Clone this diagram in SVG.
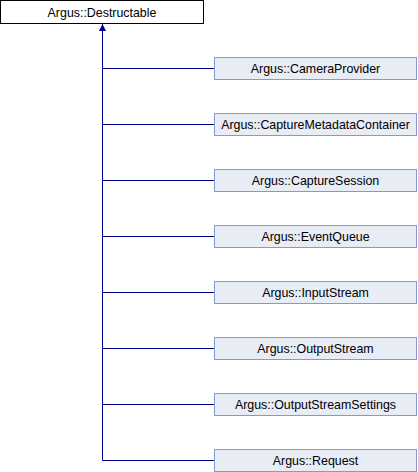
<svg xmlns="http://www.w3.org/2000/svg" width="418" height="472" viewBox="0 0 418 472">
<style>
.base{fill:#ffffff;stroke:#000000;stroke-width:1}
.box{fill:#e8ecf5;stroke:#7f9bd0;stroke-width:1}
.t{font-family:"Liberation Sans",Arial,sans-serif;font-size:12.4px;fill:#000000;text-anchor:middle}
.e{stroke:#000090;stroke-width:1;fill:none}
</style>
<defs>
<marker id="ah" viewBox="0 0 10 10" refX="10" refY="5" markerWidth="7" markerHeight="9" orient="auto" markerUnits="userSpaceOnUse">
<path d="M0,0 L10,5 L0,10 z" fill="#000090"/>
</marker>
</defs>
<rect width="418" height="472" fill="#ffffff"/>
<g id="connectors">
<path class="e" d="M102.5,460.5 L102.5,24" marker-end="url(#ah)"/>
<path class="e" d="M102.5,68.5 H214"/>
<path class="e" d="M102.5,124.5 H214"/>
<path class="e" d="M102.5,180.5 H214"/>
<path class="e" d="M102.5,236.5 H214"/>
<path class="e" d="M102.5,292.5 H214"/>
<path class="e" d="M102.5,348.5 H214"/>
<path class="e" d="M102.5,404.5 H214"/>
<path class="e" d="M102.5,460.5 H214"/>
</g>
<g id="n0"><rect class="base" x="0.5" y="0.5" width="203" height="23"/><text class="t" x="102" y="16.5">Argus::Destructable</text></g>
<g id="n1"><rect class="box" x="214.5" y="57.5" width="202" height="22"/><text class="t" x="315.5" y="73">Argus::CameraProvider</text></g>
<g id="n2"><rect class="box" x="214.5" y="113.5" width="202" height="22"/><text class="t" x="315.5" y="129">Argus::CaptureMetadataContainer</text></g>
<g id="n3"><rect class="box" x="214.5" y="169.5" width="202" height="22"/><text class="t" x="315.5" y="185">Argus::CaptureSession</text></g>
<g id="n4"><rect class="box" x="214.5" y="225.5" width="202" height="22"/><text class="t" x="315.5" y="241">Argus::EventQueue</text></g>
<g id="n5"><rect class="box" x="214.5" y="281.5" width="202" height="22"/><text class="t" x="315.5" y="297">Argus::InputStream</text></g>
<g id="n6"><rect class="box" x="214.5" y="337.5" width="202" height="22"/><text class="t" x="315.5" y="353">Argus::OutputStream</text></g>
<g id="n7"><rect class="box" x="214.5" y="393.5" width="202" height="22"/><text class="t" x="315.5" y="409">Argus::OutputStreamSettings</text></g>
<g id="n8"><rect class="box" x="214.5" y="449.5" width="202" height="22"/><text class="t" x="315.5" y="465">Argus::Request</text></g>
</svg>
